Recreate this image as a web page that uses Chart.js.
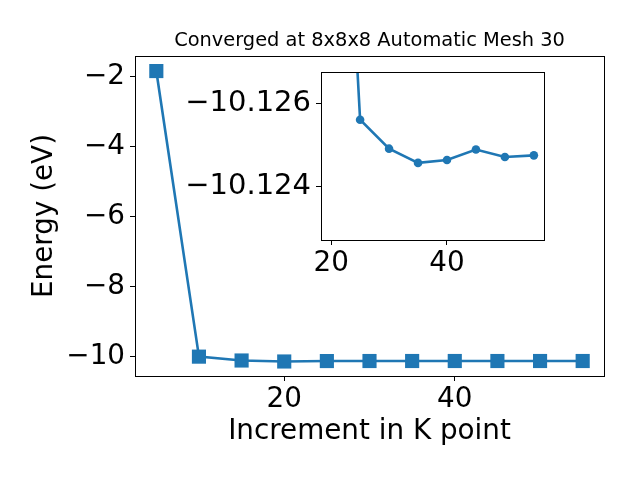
<!DOCTYPE html>
<html>
<head>
<meta charset="utf-8">
<script src="https://cdn.jsdelivr.net/npm/chart.js@4"></script>
<style>
  body { margin: 0; background: #fff; }
  #wrap { position: relative; width: 640px; height: 480px; }
  #mainChart { position: absolute; left: 0; top: 0; }
  #insetChart { position: absolute; left: 170px; top: 62px; }
</style>
</head>
<body>
<div id="wrap">
  <canvas id="mainChart" width="640" height="480"></canvas>
  <canvas id="insetChart" width="380" height="220"></canvas>
</div>
<script>
const kPoints = [5, 10, 15, 20, 25, 30, 35, 40, 45, 50, 55];
const energies = [-1.84, -10.0, -10.11, -10.1384, -10.1256, -10.12491, -10.12457, -10.12464, -10.12489, -10.12471, -10.12475];

// inset shows the tail from 20 onwards
const insetK = kPoints.slice(3);
const insetE = energies.slice(3);

const mainXTicks = [20, 40];
const mainYTicks = [-10, -8, -6, -4, -2];
const insetXTicks = [20, 40];
const insetYTicks = [-10.126, -10.124];

const blue = '#1f77b4';
Chart.defaults.color = '#000';
Chart.defaults.font.family = 'DejaVu Sans';

const minus = s => String(s).replace('-', '\u2212');

// matplotlib style box around the axes
const framePlugin = {
    id: 'frame',
    beforeDraw(chart) {
        const a = chart.chartArea;
        const ctx = chart.ctx;
        ctx.save();
        ctx.fillStyle = '#fff';
        ctx.fillRect(a.left, a.top, a.right - a.left, a.bottom - a.top);
        ctx.restore();
    },
    afterDraw(chart) {
        const a = chart.chartArea;
        const ctx = chart.ctx;
        ctx.save();
        ctx.strokeStyle = '#000';
        ctx.lineWidth = 1;
        ctx.strokeRect(Math.round(a.left) + 0.5, Math.round(a.top) + 0.5,
            Math.round(a.right - a.left), Math.round(a.bottom - a.top));
        ctx.restore();
    }
};

function tickGrid() {
    return { drawOnChartArea: false, drawTicks: true, tickLength: 5, color: '#000', lineWidth: 1 };
}

// fixed axis sizes, no extra room for overflowing labels
function fixX(h) {
    return s => { s.height = h; s.paddingLeft = 0; s.paddingRight = 0; };
}
function fixY(w) {
    return s => { s.width = w; s.paddingTop = 0; s.paddingBottom = 0; };
}

new Chart(document.getElementById('mainChart'), {
    type: 'line',
    data: {
        datasets: [{
            data: kPoints.map((k, i) => ({ x: k, y: energies[i] })),
            borderColor: blue,
            backgroundColor: blue,
            borderWidth: 2.6,
            pointStyle: 'rect',
            pointRadius: 10,
            pointBorderWidth: 0,
            tension: 0
        }]
    },
    options: {
        responsive: false,
        animation: false,
        layout: { padding: { left: 0, right: 36, top: 0, bottom: 0 } },
        plugins: {
            legend: { display: false },
            tooltip: { enabled: false },
            title: {
                display: true,
                text: 'Converged at 8x8x8 Automatic Mesh 30',
                fullSize: false,
                font: { size: 19.4, weight: 'normal' },
                padding: { top: 29.5, bottom: 3.22 }
            }
        },
        scales: {
            x: {
                type: 'linear',
                min: 2.5,
                max: 57.5,
                afterFit: fixX(104),
                afterBuildTicks: s => { s.ticks = mainXTicks.map(v => ({ value: v })); },
                grid: tickGrid(),
                border: { display: false },
                ticks: { font: { size: 27.8 }, padding: 2, maxRotation: 0, callback: v => minus(v) },
                title: { display: true, text: 'Increment in K point', font: { size: 27.8 }, padding: { top: 0, bottom: 32 } }
            },
            y: {
                min: -10.553,
                max: -1.41,
                afterFit: fixY(135),
                afterBuildTicks: s => { s.ticks = mainYTicks.map(v => ({ value: v })); },
                grid: tickGrid(),
                border: { display: false },
                ticks: { font: { size: 27.8 }, padding: 5, callback: v => minus(v) },
                title: { display: true, text: 'Energy (eV)', font: { size: 27.8 }, padding: { top: 28, bottom: 0 } }
            }
        }
    },
    plugins: [framePlugin]
});

new Chart(document.getElementById('insetChart'), {
    type: 'line',
    data: {
        datasets: [{
            data: insetK.map((k, i) => ({ x: k, y: insetE[i] })),
            borderColor: blue,
            backgroundColor: blue,
            borderWidth: 2.6,
            pointStyle: 'circle',
            pointRadius: 4.3,
            pointBorderWidth: 0,
            tension: 0
        }]
    },
    options: {
        responsive: false,
        animation: false,
        layout: { padding: { left: 0, right: 6, top: 10, bottom: 0 } },
        plugins: {
            legend: { display: false },
            tooltip: { enabled: false }
        },
        scales: {
            x: {
                type: 'linear',
                min: 18.25,
                max: 56.75,
                afterFit: fixX(42),
                afterBuildTicks: s => { s.ticks = insetXTicks.map(v => ({ value: v })); },
                grid: tickGrid(),
                border: { display: false },
                ticks: { font: { size: 27.8 }, padding: 2, maxRotation: 0, callback: v => minus(v) }
            },
            y: {
                reverse: true,
                min: -10.12674,
                max: -10.12273,
                afterFit: fixY(151),
                afterBuildTicks: s => { s.ticks = insetYTicks.map(v => ({ value: v })); },
                grid: tickGrid(),
                border: { display: false },
                ticks: { font: { size: 29 }, padding: 5, callback: v => minus(v.toFixed(3)) }
            }
        }
    },
    plugins: [framePlugin]
});
</script>
</body>
</html>
